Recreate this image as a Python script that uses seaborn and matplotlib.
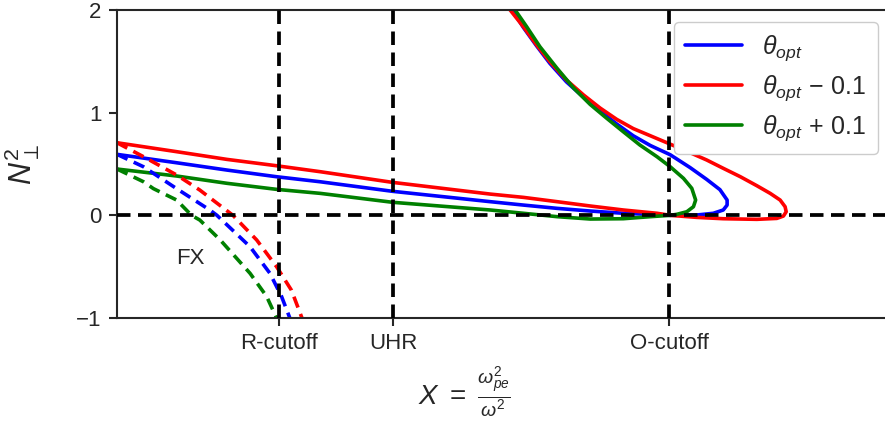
import numpy as np
import pandas as pd
import matplotlib
matplotlib.use("Agg")
import matplotlib.pyplot as plt
import seaborn as sns
from matplotlib.lines import Line2D

# ---- characteristic positions on the X axis ----
cutoff_names = ["R-cutoff", "UHR", "O-cutoff"]
cutoff_x = [0.293, 0.5, 1.0]

# ---- slow-X / O branch (solid), one curve per launch angle ----
opt_x = [0.0, 0.108, 0.199, 0.289, 0.368, 0.499, 0.676, 0.736, 0.797, 0.857, 0.917,
         0.978, 1.002, 1.050, 1.080, 1.098, 1.105, 1.105, 1.092, 1.068, 1.038, 1.002,
         0.966, 0.935, 0.905, 0.875, 0.845, 0.814, 0.784, 0.760, 0.736, 0.716, 0.694]
opt_n2 = [0.594, 0.512, 0.441, 0.376, 0.327, 0.234, 0.133, 0.100, 0.068, 0.042, 0.020,
          0.006, 0.0, 0.003, 0.020, 0.052, 0.100, 0.149, 0.250, 0.350, 0.465, 0.590,
          0.680, 0.775, 0.890, 1.015, 1.150, 1.300, 1.480, 1.650, 1.830, 2.0, 2.15]

minus_x = [0.0, 0.108, 0.199, 0.289, 0.368, 0.499, 0.676, 0.736, 0.797, 0.857, 0.917,
           0.978, 1.002, 1.050, 1.098, 1.159, 1.195, 1.207, 1.212, 1.210, 1.201, 1.183,
           1.159, 1.129, 1.098, 1.068, 1.038, 0.996, 0.966, 0.935, 0.905, 0.875, 0.845,
           0.814, 0.784, 0.760, 0.736, 0.712, 0.690]
minus_n2 = [0.707, 0.620, 0.545, 0.483, 0.425, 0.321, 0.207, 0.175, 0.133, 0.091, 0.052,
            0.020, 0.0, -0.020, -0.033, -0.039, -0.030, -0.007, 0.035, 0.084, 0.149, 0.214,
            0.288, 0.376, 0.458, 0.539, 0.610, 0.707, 0.775, 0.845, 0.935, 1.045, 1.172,
            1.318, 1.496, 1.659, 1.837, 2.0, 2.15]

plus_x = [0.0, 0.108, 0.199, 0.289, 0.368, 0.499, 0.676, 0.736, 0.797, 0.857, 0.917,
          0.966, 1.002, 1.014, 1.032, 1.044, 1.048, 1.041, 1.026, 1.002, 0.978, 0.947,
          0.917, 0.887, 0.857, 0.827, 0.797, 0.766, 0.742, 0.721, 0.700]
plus_n2 = [0.451, 0.383, 0.312, 0.253, 0.214, 0.127, 0.052, 0.020, -0.013, -0.036, -0.033,
           -0.013, 0.0, 0.010, 0.035, 0.084, 0.149, 0.263, 0.360, 0.473, 0.571, 0.685,
           0.814, 0.945, 1.080, 1.240, 1.432, 1.642, 1.837, 2.0, 2.15]

# ---- fast-X branch (dashed) ----
fx_opt_x = [0.0, 0.048, 0.108, 0.168, 0.181, 0.241, 0.277, 0.298, 0.313, 0.321]
fx_opt_n2 = [0.594, 0.473, 0.26, 0.052, 0.0, -0.306, -0.565, -0.79, -1.0, -1.1]

fx_minus_x = [0.0, 0.048, 0.108, 0.150, 0.210, 0.253, 0.289, 0.316, 0.335, 0.342]
fx_minus_n2 = [0.707, 0.571, 0.393, 0.246, 0.0, -0.24, -0.50, -0.73, -1.0, -1.1]

fx_plus_x = [0.0, 0.048, 0.066, 0.108, 0.135, 0.150, 0.187, 0.241, 0.271, 0.289, 0.297]
fx_plus_n2 = [0.451, 0.327, 0.26, 0.149, 0.0, -0.046, -0.24, -0.565, -0.79, -1.0, -1.1]

labels = [r"$\theta_{opt}$", r"$\theta_{opt}\,-\,0.1$", r"$\theta_{opt}\,+\,0.1$"]
colors = ["blue", "red", "green"]

sns.set_style("ticks")
plt.rcParams["font.family"] = ["Liberation Sans", "DejaVu Sans"]
plt.rcParams["mathtext.fontset"] = "custom"
plt.rcParams["mathtext.it"] = "Liberation Sans:italic"
plt.rcParams["mathtext.rm"] = "Liberation Sans"
plt.rcParams["mathtext.sf"] = "Liberation Sans"

fig = plt.figure(figsize=(8.85, 4.25), dpi=100)
ax = fig.add_axes([117 / 885, 107 / 425, 773 / 885, 308 / 425])

solid = [(opt_x, opt_n2), (minus_x, minus_n2), (plus_x, plus_n2)]
dashed = [(fx_opt_x, fx_opt_n2), (fx_minus_x, fx_minus_n2), (fx_plus_x, fx_plus_n2)]

for (xs, ys), c in zip(solid, colors):
    df = pd.DataFrame({"X": xs, "N2": ys})
    sns.lineplot(data=df, x="X", y="N2", sort=False, estimator=None,
                 color=c, lw=2.6, ax=ax, zorder=2)
for (xs, ys), c in zip(dashed, colors):
    df = pd.DataFrame({"X": xs, "N2": ys})
    sns.lineplot(data=df, x="X", y="N2", sort=False, estimator=None,
                 color=c, lw=2.6, dashes=(3.2, 1.9), ax=ax, zorder=2)

# reference lines
ax.axhline(0, color="black", lw=2.7, dashes=(3.6, 2.0), zorder=3)
for xv in cutoff_x:
    ax.axvline(xv, color="black", lw=2.7, dashes=(3.6, 2.0), zorder=3)

ax.set_xlim(0, 1.4)
ax.set_ylim(-1, 2)
ax.set_xticks(cutoff_x)
ax.set_xticklabels(cutoff_names)
ax.set_yticks([-1, 0, 1, 2])
ax.set_yticklabels(["\u22121", "0", "1", "2"])
ax.tick_params(labelsize=16, length=6, width=1.5, pad=5)
for s in ax.spines.values():
    s.set_linewidth(1.5)

ax.text(0.132, -0.42, "FX", fontsize=16, ha="center", va="center")

ax.set_xlabel(r"$X\ =\ \frac{\omega_{pe}^2}{\omega^2}$", fontsize=20)
ax.xaxis.set_label_coords(0.449, -0.15)
ax.set_ylabel(r"$N_\perp^2$", fontsize=22)
ax.yaxis.set_label_coords(-0.097, 0.5)

handles = [Line2D([], [], color=c, lw=2.6) for c in colors]
ax.legend(handles, labels, loc="upper right", fontsize=18, handlelength=2.3,
          handletextpad=0.8, labelspacing=0.4, borderpad=0.45,
          framealpha=1, edgecolor="#cccccc")

fig.savefig("out.png", dpi=100)
